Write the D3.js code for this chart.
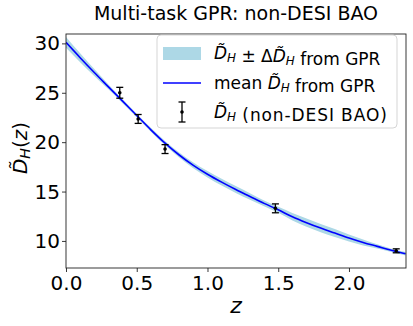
<!DOCTYPE html>
<html>
<head>
<meta charset="utf-8">
<script src="https://cdn.jsdelivr.net/npm/d3@7"></script>
<style>
  body { margin: 0; background: #fff; }
  svg { font-family: "DejaVu Sans", sans-serif; }
</style>
</head>
<body>
<svg id="chart" width="413" height="326"></svg>
<script>
// GPR mean curve and 1-sigma width
const gprZ = [0.0, 0.1, 0.2, 0.3, 0.4, 0.5, 0.6, 0.7, 0.8, 0.9, 1.0, 1.1, 1.2,
              1.3, 1.4, 1.5, 1.6, 1.7, 1.8, 1.9, 2.0, 2.1, 2.2, 2.3, 2.4];
const gprMean = [30.1, 28.55, 27.05, 25.6, 24.15, 22.7, 21.25, 19.9, 18.7, 17.65, 16.75, 15.95, 15.2,
                 14.5, 13.8, 13.15, 12.45, 11.85, 11.3, 10.8, 10.3, 9.85, 9.45, 9.05, 8.7];
const gprSigma = [0.55, 0.45, 0.35, 0.25, 0.2, 0.18, 0.2, 0.22, 0.26, 0.3, 0.33, 0.35, 0.35,
                  0.33, 0.3, 0.3, 0.38, 0.42, 0.42, 0.4, 0.35, 0.3, 0.22, 0.16, 0.18];

// non-DESI BAO points
const baoZ = [0.38, 0.51, 0.70, 1.48, 2.334];
const baoDH = [25.0, 22.35, 19.3, 13.3, 9.0];
const baoErr = [0.55, 0.45, 0.45, 0.45, 0.2];

const xTicks = [0.0, 0.5, 1.0, 1.5, 2.0];
const yTicks = [10, 15, 20, 25, 30];

const svg = d3.select('#chart');
const margin = { top: 34, right: 7, bottom: 58, left: 66 };
const width = 413, height = 326;

const x = d3.scaleLinear().domain([0, 2.403]).range([margin.left, width - margin.right]);
const y = d3.scaleLinear().domain([7.26, 30.95]).range([height - margin.bottom, margin.top]);

const gpr = gprZ.map((z, i) => ({ z, m: gprMean[i], s: gprSigma[i] }));
const bao = baoZ.map((z, i) => ({ z, v: baoDH[i], e: baoErr[i] }));

svg.append('clipPath').attr('id', 'clip')
  .append('rect')
  .attr('x', margin.left).attr('y', margin.top)
  .attr('width', width - margin.left - margin.right)
  .attr('height', height - margin.top - margin.bottom);

const plot = svg.append('g').attr('clip-path', 'url(#clip)');

plot.append('path')
  .datum(gpr)
  .attr('fill', '#add8e6')
  .attr('d', d3.area()
    .x(d => x(d.z))
    .y0(d => y(d.m - d.s))
    .y1(d => y(d.m + d.s))
    .curve(d3.curveMonotoneX));

plot.append('path')
  .datum(gpr)
  .attr('fill', 'none')
  .attr('stroke', '#0000ff')
  .attr('stroke-width', 1.6)
  .attr('d', d3.line()
    .x(d => x(d.z))
    .y(d => y(d.m))
    .curve(d3.curveMonotoneX));

// error bars
const eb = plot.append('g').attr('stroke', '#000').attr('stroke-width', 1.3);
eb.selectAll('line.v').data(bao).join('line')
  .attr('x1', d => x(d.z)).attr('x2', d => x(d.z))
  .attr('y1', d => y(d.v - d.e)).attr('y2', d => y(d.v + d.e));
eb.selectAll('line.t').data(bao).join('line')
  .attr('x1', d => x(d.z) - 3.5).attr('x2', d => x(d.z) + 3.5)
  .attr('y1', d => y(d.v + d.e)).attr('y2', d => y(d.v + d.e));
eb.selectAll('line.b').data(bao).join('line')
  .attr('x1', d => x(d.z) - 3.5).attr('x2', d => x(d.z) + 3.5)
  .attr('y1', d => y(d.v - d.e)).attr('y2', d => y(d.v - d.e));
plot.selectAll('circle').data(bao).join('circle')
  .attr('cx', d => x(d.z)).attr('cy', d => y(d.v)).attr('r', 1.8)
  .attr('fill', '#000');

// axes
const xAxis = svg.append('g')
  .attr('transform', `translate(0,${height - margin.bottom})`)
  .call(d3.axisBottom(x).tickValues(xTicks).tickFormat(d3.format('.1f')).tickSize(4).tickSizeOuter(0));
const yAxis = svg.append('g')
  .attr('transform', `translate(${margin.left},0)`)
  .call(d3.axisLeft(y).tickValues(yTicks).tickSize(4).tickSizeOuter(0));
[xAxis, yAxis].forEach(a => {
  a.select('.domain').remove();
  a.selectAll('line').attr('stroke', '#222').attr('stroke-width', 0.9);
  a.selectAll('text').attr('font-size', 20).attr('fill', '#000')
    .attr('font-family', '"DejaVu Sans", sans-serif');
});
xAxis.selectAll('text').attr('dy', 0).attr('y', 22);
yAxis.selectAll('text').attr('x', -6).attr('dy', '0.33em');

// frame
svg.append('rect')
  .attr('x', margin.left).attr('y', margin.top)
  .attr('width', width - margin.left - margin.right)
  .attr('height', height - margin.top - margin.bottom)
  .attr('fill', 'none').attr('stroke', '#222').attr('stroke-width', 0.9);

// title and axis labels
svg.append('text')
  .attr('x', 236).attr('y', 20)
  .attr('text-anchor', 'middle').attr('font-size', 19)
  .text('Multi-task GPR: non-DESI BAO');

svg.append('text')
  .attr('x', 236).attr('y', 313)
  .attr('text-anchor', 'middle').attr('font-size', 22).attr('font-style', 'italic')
  .text('z');

const yl = svg.append('text')
  .attr('transform', 'translate(27,148) rotate(-90)')
  .attr('text-anchor', 'middle').attr('font-size', 20);
yl.append('tspan').attr('font-style', 'italic').text('D\u0303');
yl.append('tspan').attr('font-style', 'italic').attr('font-size', 14).attr('dy', 3).text('H');
yl.append('tspan').attr('dy', -3).text('(');
yl.append('tspan').attr('font-style', 'italic').text('z');
yl.append('tspan').text(')');

// legend
const lg = svg.append('g');
lg.append('rect')
  .attr('x', 157).attr('y', 35).attr('width', 240).attr('height', 93)
  .attr('rx', 4).attr('fill', '#fff').attr('fill-opacity', 0.8)
  .attr('stroke', '#d0d0d0').attr('stroke-width', 0.9);

lg.append('rect').attr('x', 163).attr('y', 47).attr('width', 38).attr('height', 13)
  .attr('fill', '#add8e6');
lg.append('line').attr('x1', 163).attr('x2', 201).attr('y1', 83).attr('y2', 83)
  .attr('stroke', '#0000ff').attr('stroke-width', 1.6);
const le = lg.append('g').attr('stroke', '#000').attr('stroke-width', 1.3);
le.append('line').attr('x1', 182).attr('x2', 182).attr('y1', 102).attr('y2', 122);
le.append('line').attr('x1', 178.5).attr('x2', 185.5).attr('y1', 102).attr('y2', 102);
le.append('line').attr('x1', 178.5).attr('x2', 185.5).attr('y1', 122).attr('y2', 122);
lg.append('circle').attr('cx', 182).attr('cy', 112).attr('r', 1.8).attr('fill', '#000');

function dh(t, size) {
  t.append('tspan').attr('font-style', 'italic').text('D\u0303');
  t.append('tspan').attr('font-style', 'italic').attr('font-size', size * 0.7).attr('dy', 3).text('H');
  t.append('tspan').attr('dy', -3).text('');
}
const fs = 17;
const t1 = lg.append('text').attr('x', 214).attr('y', 59).attr('font-size', fs);
dh(t1, fs);
t1.append('tspan').text(' \u00b1 \u0394');
dh(t1, fs);
t1.append('tspan').text(' from GPR');

const t2 = lg.append('text').attr('x', 214).attr('y', 89).attr('font-size', fs);
t2.append('tspan').text('mean ');
dh(t2, fs);
t2.append('tspan').text(' from GPR');

const t3 = lg.append('text').attr('x', 214).attr('y', 118).attr('font-size', fs);
dh(t3, fs);
t3.append('tspan').attr('letter-spacing', 0.9).text(' (non-DESI BAO)');
</script>
</body>
</html>
